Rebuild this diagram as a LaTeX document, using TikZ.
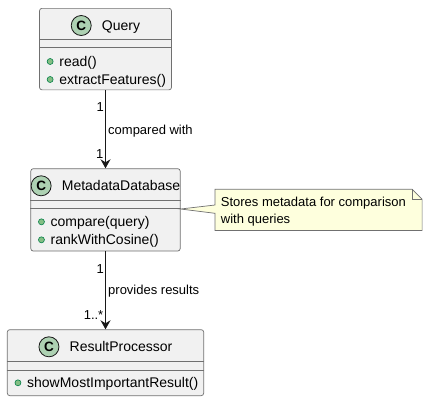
\documentclass[tikz,border=0pt]{standalone}
\usepackage{fontspec}
\setmainfont{Liberation Sans}
\usetikzlibrary{arrows.meta}
\definecolor{boxfill}{HTML}{F1F1F1}
\definecolor{edge}{HTML}{181818}
\definecolor{thinedge}{HTML}{707070}
\definecolor{badge}{HTML}{ADD1B2}
\definecolor{dotfill}{HTML}{84BE84}
\definecolor{dotedge}{HTML}{038048}
\definecolor{notefill}{HTML}{FEFFDD}
\tikzset{
  classbox/.style={draw=thinedge, fill=boxfill, line width=0.7pt, rounded corners=2.5pt, rectangle, inner sep=0pt, anchor=north},
  sepline/.style={draw=thinedge, line width=0.7pt},
  titletext/.style={font=\fontsize{14}{16}\selectfont, inner sep=0pt, anchor=base},
  cbadge/.style={circle, draw=edge, fill=badge, line width=0.8pt, minimum size=20pt, inner sep=0pt, font=\fontsize{13.5}{13.5}\selectfont\bfseries},
  methodtext/.style={font=\fontsize{14}{16}\selectfont, inner sep=0pt, anchor=base west},
  mdot/.style={fill=dotfill, draw=dotedge, line width=0.6pt},
  lbl/.style={font=\fontsize{13}{15}\selectfont, inner sep=0pt},
  assoc/.style={draw=edge, line width=1pt, -{Stealth[length=9pt, width=10pt, inset=3pt]}},
  notestyle/.style={draw=thinedge, fill=notefill, line width=0.7pt, line join=miter},
}
\begin{document}
\begin{tikzpicture}[x=1pt, y=-1pt]
\useasboundingbox (0,0) rectangle (427,400);

% ---------- Query ----------
\node[classbox, minimum width=132pt, minimum height=81.5pt] (query) at (105.5,8) {};
\draw[sepline] ([yshift=-31.3pt]query.north west) -- ([yshift=-31.3pt]query.north east);
\draw[sepline] ([yshift=-39.3pt]query.north west) -- ([yshift=-39.3pt]query.north east);
\node[titletext] (queryT) at ([xshift=15.5pt, yshift=-22pt]query.north) {Query};
\node[cbadge] (queryC) at ([xshift=-20.5pt, yshift=4.5pt]queryT.base west) {C};
\node[methodtext] (queryM1) at ([xshift=20pt, yshift=-58pt]query.north west) {read()};
\node[methodtext] (queryM2) at ([xshift=20pt, yshift=-76pt]query.north west) {extractFeatures()};
\path[mdot] ([xshift=-9pt, yshift=4.5pt]queryM1.base west) circle (3pt);
\path[mdot] ([xshift=-9pt, yshift=4.5pt]queryM2.base west) circle (3pt);

% ---------- MetadataDatabase ----------
\node[classbox, minimum width=149.4pt, minimum height=82.4pt] (meta) at (105.5,168.3) {};
\draw[sepline] ([yshift=-31.8pt]meta.north west) -- ([yshift=-31.8pt]meta.north east);
\draw[sepline] ([yshift=-40pt]meta.north west) -- ([yshift=-40pt]meta.north east);
\node[titletext] (metaT) at ([xshift=15.5pt, yshift=-22pt]meta.north) {MetadataDatabase};
\node[cbadge] (metaC) at ([xshift=-20.5pt, yshift=4.5pt]metaT.base west) {C};
\node[methodtext] (metaM1) at ([xshift=20pt, yshift=-58pt]meta.north west) {compare(query)};
\node[methodtext] (metaM2) at ([xshift=20pt, yshift=-76pt]meta.north west) {rankWithCosine()};
\path[mdot] ([xshift=-9pt, yshift=4.5pt]metaM1.base west) circle (3pt);
\path[mdot] ([xshift=-9pt, yshift=4.5pt]metaM2.base west) circle (3pt);

% ---------- ResultProcessor ----------
\node[classbox, minimum width=196.4pt, minimum height=66pt] (result) at (105.5,329.3) {};
\draw[sepline] ([yshift=-32.4pt]result.north west) -- ([yshift=-32.4pt]result.north east);
\draw[sepline] ([yshift=-40.7pt]result.north west) -- ([yshift=-40.7pt]result.north east);
\node[titletext] (resultT) at ([xshift=15.5pt, yshift=-22pt]result.north) {ResultProcessor};
\node[cbadge] (resultC) at ([xshift=-20.5pt, yshift=4.5pt]resultT.base west) {C};
\node[methodtext] (resultM1) at ([xshift=20pt, yshift=-58pt]result.north west) {showMostImportantResult()};
\path[mdot] ([xshift=-9pt, yshift=4.5pt]resultM1.base west) circle (3pt);

% ---------- associations ----------
\draw[assoc] (query.south) -- (meta.north);
\node[lbl, anchor=base east] (a1from) at (104,111.5) {1};
\node[lbl, anchor=base west] (a1lbl) at (108,134.5) {compared with};
\node[lbl, anchor=base east] (a1to) at (103.5,158) {1};

\draw[assoc] (meta.south) -- (result.north);
\node[lbl, anchor=base east] (a2from) at (104,273) {1};
\node[lbl, anchor=base west] (a2lbl) at (108,294.5) {provides results};
\node[lbl, anchor=base east] (a2to) at (103.5,319) {1..*};

% ---------- note ----------
\node[minimum width=206.7pt, minimum height=40.7pt, inner sep=0pt, anchor=north west] (note) at (215,189.3) {};
\coordinate (noteTip) at (meta.east |- 0,209);
\path[notestyle] (note.north west) -- ([xshift=-10pt]note.north east) -- ([yshift=-10pt]note.north east)
  -- (note.south east) -- (note.south west) -- (note.west |- 0,213.3) -- (noteTip)
  -- (note.west |- 0,205) -- cycle;
\draw[sepline] ([xshift=-10pt]note.north east) -- ([xshift=-10pt, yshift=-10pt]note.north east) -- ([yshift=-10pt]note.north east);
\node[lbl, anchor=base west] (noteL1) at (220.7,206) {Stores metadata for comparison};
\node[lbl, anchor=base west] (noteL2) at (220.7,223) {with queries};
\end{tikzpicture}
\end{document}
